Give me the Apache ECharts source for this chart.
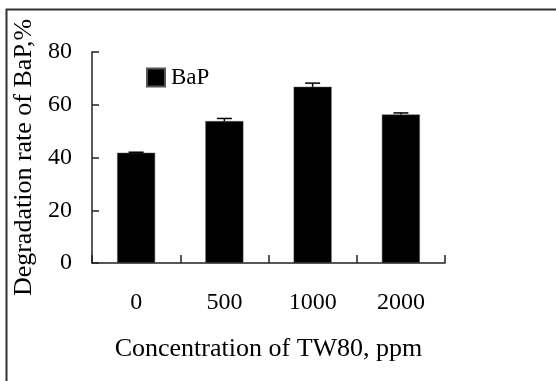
<!DOCTYPE html>
<html>
<head>
<meta charset="utf-8">
<script src="https://cdn.jsdelivr.net/npm/echarts@6/dist/echarts.min.js"></script>
<style>
  html, body { margin: 0; padding: 0; background: #fff; }
  #chart { width: 556px; height: 381px; }
</style>
</head>
<body>
<div id="chart"></div>
<script>
var categories = ['0', '500', '1000', '2000'];
var rates = [41.8, 53.8, 66.8, 56.3];
var errors = [0.2, 1.0, 1.4, 0.6];
var yTicks = [0, 20, 40, 60, 80];

var font = 'Liberation Serif';
var chart = echarts.init(document.getElementById('chart'), null, { renderer: 'canvas' });

var errData = categories.map(function (c, i) {
    return [i, rates[i], errors[i]];
});

var option = {
    animation: false,
    backgroundColor: '#fff',
    grid: { left: 92, right: 111, top: 52, bottom: 118 },
    legend: {
        data: ['BaP'],
        left: 141,
        top: 61,
        itemWidth: 18,
        itemHeight: 18,
        itemGap: 6,
        icon: 'rect',
        textStyle: { fontFamily: font, fontSize: 23, color: '#000', padding: [0, 0, 0, 1] }
    },
    xAxis: {
        type: 'category',
        data: categories,
        name: 'Concentration of TW80, ppm',
        nameLocation: 'middle',
        nameGap: 73,
        nameTextStyle: { fontFamily: font, fontSize: 26, color: '#000' },
        axisLine: { lineStyle: { color: '#222', width: 1.5 } },
        axisTick: { show: true, inside: true, length: 8, alignWithLabel: false, lineStyle: { color: '#222', width: 1.5 } },
        axisLabel: { fontFamily: font, fontSize: 24, color: '#000', margin: 28 }
    },
    yAxis: {
        type: 'value',
        min: 0,
        max: 80,
        interval: 20,
        name: 'Degradation rate of BaP,%',
        nameLocation: 'middle',
        nameGap: 48,
        nameTextStyle: { fontFamily: font, fontSize: 26, color: '#000' },
        axisLine: { show: true, lineStyle: { color: '#222', width: 1.5 } },
        axisTick: { show: true, inside: true, length: 7, lineStyle: { color: '#222', width: 1.5 } },
        splitLine: { show: false },
        axisLabel: {
            fontFamily: font, fontSize: 24, color: '#000', margin: 20,
            formatter: function (v) { return yTicks.indexOf(v) >= 0 ? String(v) : ''; }
        }
    },
    series: [
        {
            name: 'BaP',
            type: 'bar',
            data: rates,
            barWidth: 38,
            itemStyle: { color: '#000', borderColor: '#555', borderWidth: 0.5 }
        },
        {
            name: 'err',
            type: 'custom',
            data: errData,
            z: 5,
            renderItem: function (params, api) {
                var x = api.value(0);
                var v = api.value(1);
                var e = api.value(2);
                var top = api.coord([x, v + e]);
                var bot = api.coord([x, v]);
                var half = 7.5;
                return {
                    type: 'group',
                    children: [
                        { type: 'line', shape: { x1: top[0], y1: top[1], x2: bot[0], y2: bot[1] }, style: { stroke: '#000', lineWidth: 1.5 } },
                        { type: 'line', shape: { x1: top[0] - half, y1: top[1], x2: top[0] + half, y2: top[1] }, style: { stroke: '#000', lineWidth: 1.5 } }
                    ]
                };
            }
        }
    ],
    graphic: [
        {
            type: 'rect',
            shape: { x: 6.5, y: 9.5, width: 600, height: 400 },
            style: { fill: 'none', stroke: '#333', lineWidth: 2 },
            silent: true
        }
    ]
};

chart.setOption(option);
</script>
</body>
</html>
